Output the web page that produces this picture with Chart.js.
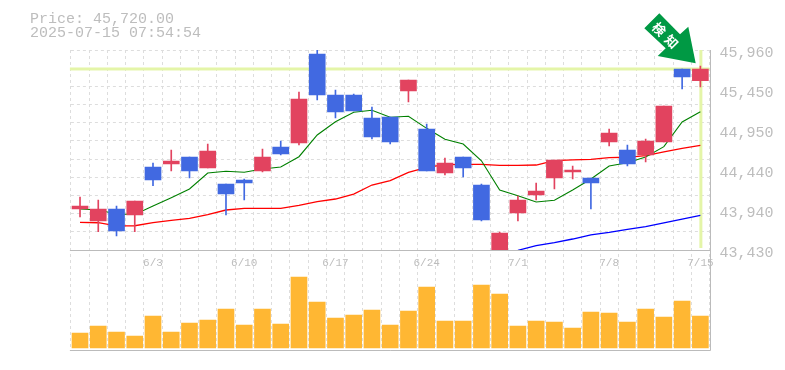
<!DOCTYPE html>
<html>
<head>
<meta charset="utf-8">
<title>Price chart</title>
<script src="https://cdn.jsdelivr.net/npm/chart.js@4"></script>
<style>
    html, body { margin: 0; padding: 0; background: #fff; }
    canvas { display: block; }
</style>
</head>
<body>
<canvas id="chart" width="785" height="370"></canvas>
<script>
// Data
const dates = ["5/28","5/29","5/30","6/2","6/3","6/4","6/5","6/6","6/9","6/10","6/11","6/12","6/13","6/16","6/17","6/18","6/19","6/20","6/23","6/24","6/25","6/26","6/27","6/30","7/1","7/2","7/3","7/4","7/7","7/8","7/9","7/10","7/11","7/14","7/15"];
const openPrices = [43949,43797,43949,43873,44480,44518,44606,44467,44265,44316,44429,44733,44784,45909,45391,45391,45100,45112,45441,44961,44404,44606,44252,43400,43898,44126,44341,44417,44341,44796,44695,44632,44796,45720,45572];
const highPrices = [44100,44062,43987,44050,44530,44695,44606,44771,44265,44328,44708,44809,45429,45960,45454,45403,45239,45112,45580,45024,44594,44606,44265,43658,44113,44278,44568,44493,44341,44961,44758,44834,45252,45720,45758];
const lowPrices = [43847,43661,43607,43661,44243,44429,44341,44467,43873,44062,44417,44632,44758,45327,45100,45188,44834,44771,45302,44429,44379,44353,43797,43350,43797,44062,44202,44328,43949,44746,44493,44543,44796,45467,45492];
const closePrices = [43987,43949,43670,44050,44316,44556,44429,44682,44138,44278,44606,44644,45340,45391,45176,45188,44859,44796,45580,44429,44530,44467,43810,43645,44062,44176,44568,44442,44278,44910,44518,44809,45252,45618,45720];
const ma5 = [43949,43936,43885,43879,43987,44092,44202,44404,44426,44413,44455,44480,44610,44885,45053,45172,45197,45109,45121,44969,44830,44771,44558,44189,44117,44037,44059,44189,44328,44493,44534,44606,44737,45049,45179];
const ma25 = [43780,43775,43734,43737,43775,43806,43831,43877,43936,43957,43957,43957,43995,44041,44075,44138,44252,44307,44413,44474,44509,44514,44514,44501,44501,44505,44560,44569,44577,44598,44603,44623,44670,44716,44754];
const ma75 = [null,null,null,null,null,null,null,null,null,null,null,null,null,null,null,null,null,null,null,null,null,null,null,null,43426,43484,43522,43569,43622,43654,43692,43725,43772,43822,43869];
const volumes = [15,22,16,12,32,16,25,28,39,23,39,24,71,46,30,33,38,23,37,61,27,27,63,54,22,27,26,20,36,35,26,39,31,47,32];
const priceTicks = [45960,45450,44950,44440,43940,43430];
const gridTicks = [43430,43660,43890,44120,44350,44580,44810,45040,45270,45500,45730,45960];
const lastPrice = 45720;
const priceText = "Price: 45,720.00";
const timeText = "2025-07-15 07:54:54";
const badgeChars = ["検", "知"];

const UP_COLOR = "#e2435f";
const DOWN_COLOR = "#4169e1";
const TEXT_COLOR = "#bdbdbd";
const LINE_COLOR = "#bbbbbb";
const MONO = '"Liberation Mono", monospace';

const candleColors = openPrices.map((o, i) => closePrices[i] >= o ? UP_COLOR : DOWN_COLOR);

// Last price cross goes under the candles
const priceCross = {
    id: "priceCross",
    beforeDatasetsDraw(chart) {
        const { ctx, scales } = chart;
        const y = scales.y.getPixelForValue(lastPrice);
        const x = scales.x.getPixelForValue(dates.length - 1);
        ctx.save();
        ctx.fillStyle = "#e4f5a8";
        ctx.fillRect(scales.x.left - 1, y - 1.5, scales.x.right - scales.x.left + 1, 3);
        ctx.fillRect(x - 1, scales.y.top, 3, scales.y.bottom - scales.y.top - 2);
        ctx.restore();
    }
};

// Solid frame lines, header text and the green badge
const decorations = {
    id: "decorations",
    afterDraw(chart) {
        const { ctx, chartArea, scales } = chart;
        ctx.save();
        ctx.strokeStyle = LINE_COLOR;
        ctx.lineWidth = 1;
        ctx.beginPath();
        const midY = Math.round(scales.y.bottom) + 0.5;
        const botY = Math.round(chartArea.bottom) + 0.5;
        const rightX = Math.round(chartArea.right) + 0.5;
        ctx.moveTo(chartArea.left - 1, midY);
        ctx.lineTo(rightX, midY);
        ctx.moveTo(chartArea.left - 1, botY);
        ctx.lineTo(rightX, botY);
        ctx.moveTo(rightX, chartArea.top);
        ctx.lineTo(rightX, botY);
        ctx.stroke();

        ctx.fillStyle = TEXT_COLOR;
        ctx.font = "15px " + MONO;
        ctx.textAlign = "left";
        ctx.fillText(priceText, 30, 23);
        ctx.fillText(timeText, 30, 37);

        ctx.fillStyle = "#009944";
        ctx.beginPath();
        ctx.moveTo(644.3, 28.3);
        ctx.lineTo(659.3, 13.3);
        ctx.lineTo(680, 34.3);
        ctx.lineTo(688.3, 26.7);
        ctx.lineTo(695.7, 63.3);
        ctx.lineTo(657.7, 56);
        ctx.lineTo(665.7, 48.3);
        ctx.closePath();
        ctx.fill();

        ctx.fillStyle = "#fff";
        ctx.font = 'bold 13px "Noto Sans CJK JP"';
        ctx.textAlign = "center";
        ctx.textBaseline = "middle";
        badgeChars.forEach((ch, i) => {
            ctx.save();
            ctx.translate(659 + i * 12.7, 29 + i * 12.7);
            ctx.rotate(Math.PI / 4);
            ctx.fillText(ch, 0, 0);
            ctx.restore();
        });
        ctx.restore();
    }
};

new Chart(document.getElementById("chart"), {
    data: {
        labels: dates,
        datasets: [
            { type: "bar", data: openPrices.map((o, i) => [o, closePrices[i]]), backgroundColor: candleColors, barThickness: 16, yAxisID: "y", order: 1, grouped: false },
            { type: "bar", data: lowPrices.map((l, i) => [l, highPrices[i]]), backgroundColor: candleColors, barThickness: 1, yAxisID: "y", order: 2, grouped: false },
            { type: "line", data: ma5, borderColor: "#008000", borderWidth: 1.1, pointRadius: 0, tension: 0, yAxisID: "y", order: 3 },
            { type: "line", data: ma25, borderColor: "#ff0000", borderWidth: 1.3, pointRadius: 0, tension: 0, yAxisID: "y", order: 3 },
            { type: "line", data: ma75, borderColor: "#0000ff", borderWidth: 1.3, pointRadius: 0, tension: 0, yAxisID: "y", order: 3 },
            { type: "bar", data: volumes, backgroundColor: "#ffb733", barThickness: 16, yAxisID: "vol", order: 1, grouped: false }
        ]
    },
    options: {
        responsive: false,
        animation: false,
        layout: { padding: { left: 70.9, top: 50, bottom: 20, right: 0 } },
        plugins: { legend: { display: false }, tooltip: { enabled: false } },
        scales: {
            x: {
                type: "category",
                position: { y: 43430 },
                offset: true,
                grid: { color: "#dddddd", offset: true, drawTicks: false },
                border: { display: false, dash: [3, 3] },
                ticks: {
                    autoSkip: false,
                    maxRotation: 0,
                    padding: 6,
                    color: TEXT_COLOR,
                    font: { family: MONO, size: 11 },
                    callback(value, index) { return index % 5 === 4 ? dates[index] : ""; }
                }
            },
            y: {
                position: "right",
                stack: "panels",
                stackWeight: 2,
                weight: 1,
                min: 43430,
                max: 45960,
                afterFit(scale) { scale.width = 75.5; },
                afterBuildTicks(scale) {
                    const all = [...new Set([...gridTicks, ...priceTicks])].sort((a, b) => a - b);
                    scale.ticks = all.map(value => ({ value }));
                },
                grid: {
                    drawTicks: false,
                    color(ctx) { return gridTicks.includes(ctx.tick.value) ? "#dddddd" : "rgba(0,0,0,0)"; }
                },
                border: { display: false, dash: [3, 3] },
                ticks: {
                    autoSkip: false,
                    padding: 10,
                    labelOffset: 3,
                    color: TEXT_COLOR,
                    font: { family: MONO, size: 15 },
                    callback(value) { return priceTicks.includes(value) ? value.toLocaleString("en-US") : ""; }
                }
            },
            vol: {
                position: "right",
                stack: "panels",
                stackWeight: 1,
                weight: 2,
                min: -2,
                max: 98,
                afterFit(scale) { scale.width = 75.5; },
                grid: { display: false },
                border: { display: false },
                ticks: { display: false }
            }
        }
    },
    plugins: [priceCross, decorations]
});
</script>
</body>
</html>
